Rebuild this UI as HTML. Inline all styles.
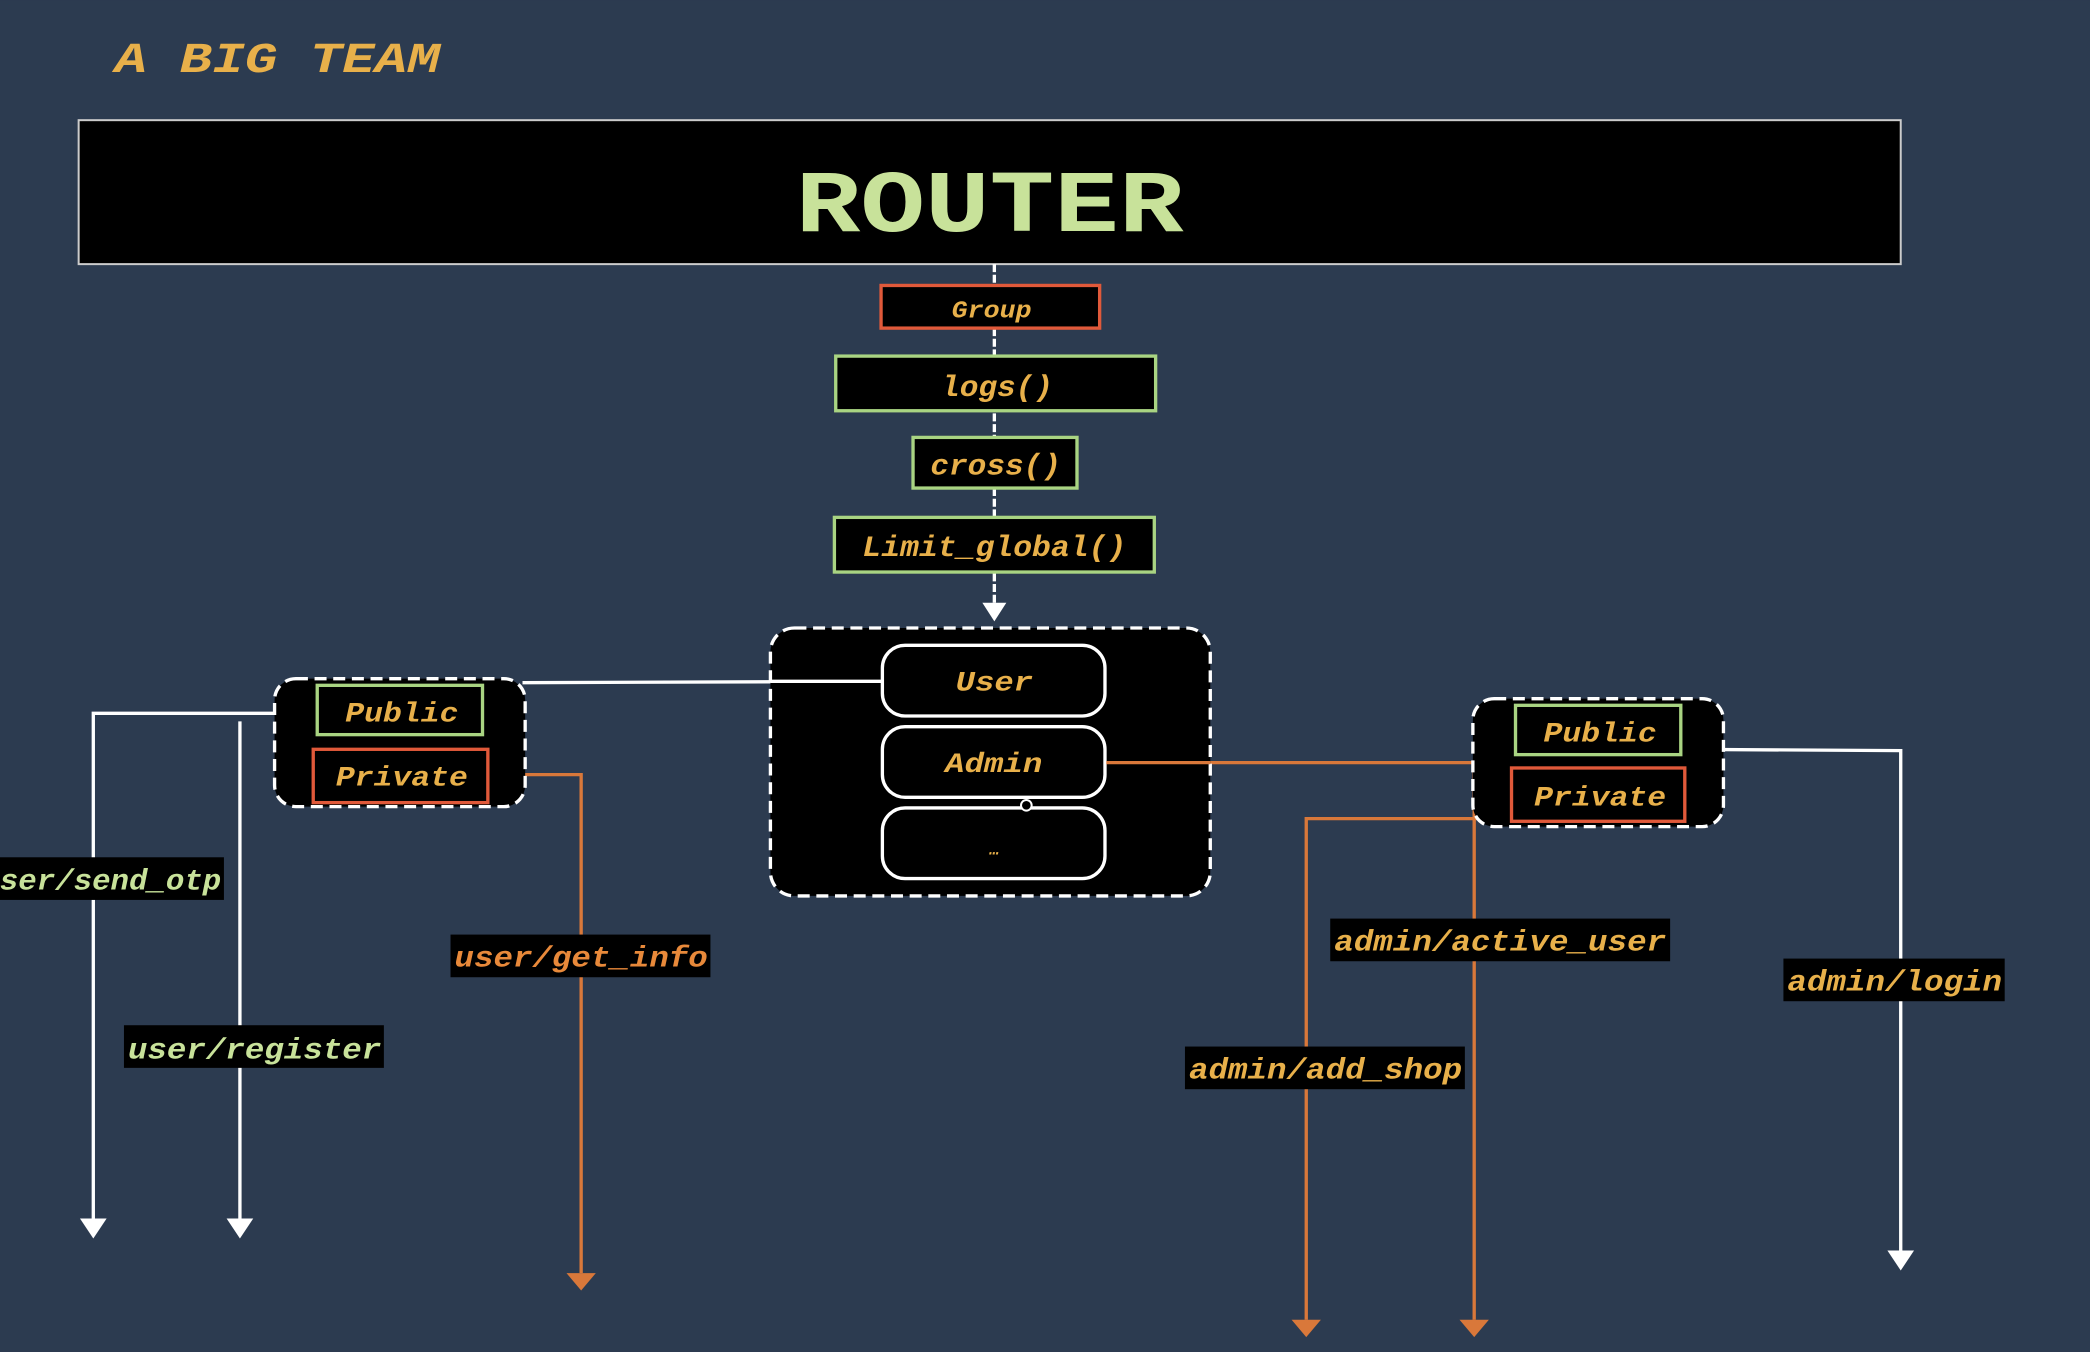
<!DOCTYPE html>
<html><head><meta charset="utf-8"><style>
html,body{margin:0;padding:0;background:#2c3b50;}
svg{display:block}
text{font-family:"Liberation Mono",monospace;font-weight:bold;}
</style></head><body>
<svg width="2090" height="1352" viewBox="0 0 1568 1014" xmlns="http://www.w3.org/2000/svg">
<rect width="1568" height="1014" fill="#2c3b50"/>
<text x="86" y="54" font-size="32" font-style="italic" fill="#e8b04a" textLength="244" lengthAdjust="spacingAndGlyphs">A BIG TEAM</text>
<rect x="59" y="90" width="1367" height="108" fill="#000" stroke="#ccc" stroke-width="1.5"/>
<text x="597" y="173" font-size="66" fill="#c8e29a" textLength="291" lengthAdjust="spacingAndGlyphs">ROUTER</text>
<line x1="746" y1="198" x2="746" y2="452" stroke="#fff" stroke-width="2.5" stroke-dasharray="6 2"/>
<path d="M737,452 L755,452 L746,466 z" fill="#fff"/>
<g font-style="italic" fill="#e8b04a">
<rect x="661" y="214" width="164" height="32" fill="#000" stroke="#e0593a" stroke-width="2.5"/>
<text x="714" y="238" font-size="18" textLength="60" lengthAdjust="spacingAndGlyphs">Group</text>
<rect x="627" y="267" width="240" height="41" fill="#000" stroke="#a9d482" stroke-width="2.5"/>
<text x="706" y="297" font-size="22" textLength="84" lengthAdjust="spacingAndGlyphs">logs()</text>
<rect x="685" y="328" width="123" height="38" fill="#000" stroke="#a9d482" stroke-width="2.5"/>
<text x="698" y="356" font-size="22" textLength="98" lengthAdjust="spacingAndGlyphs">cross()</text>
<rect x="626" y="388" width="240" height="41" fill="#000" stroke="#a9d482" stroke-width="2.5"/>
<text x="647" y="417" font-size="22" textLength="198" lengthAdjust="spacingAndGlyphs">Limit_global()</text>
</g>
<g stroke="#fff" stroke-width="2.5" fill="none">
<path d="M392,512 L662,511"/>
<path d="M237,535 L70,535 L70,914"/>
<path d="M180,541 L180,914"/>
<path d="M1262,562 L1426,563 L1426,938"/>
</g>
<g fill="#fff">
<path d="M60,914 L80,914 L70,929 z"/>
<path d="M170,914 L190,914 L180,929 z"/>
<path d="M1416,938 L1436,938 L1426,953 z"/>
</g>
<g stroke="#d9783a" stroke-width="2.5" fill="none">
<path d="M366,581 L436,581 L436,955"/>
<path d="M830,572 L1106,572"/>
<path d="M1135,614 L980,614 L980,990"/>
<path d="M1106,572 L1106,990"/>
</g>
<path d="M425,955 L447,955 L436,968 z" fill="#d9783a"/>
<path d="M969,990 L991,990 L980,1003 z" fill="#d9783a"/>
<path d="M1095,990 L1117,990 L1106,1003 z" fill="#d9783a"/>
<rect x="578" y="471" width="330" height="201" rx="18" fill="#000" stroke="#fff" stroke-width="2.5" stroke-dasharray="9 5"/>
<g fill="#000" stroke="#fff" stroke-width="2.5">
<rect x="662" y="484" width="167" height="53" rx="17"/>
<rect x="662" y="545" width="167" height="53" rx="17"/>
<rect x="662" y="606" width="167" height="53" rx="17"/>
</g>
<path d="M830,572 L908,572" stroke="#d9783a" stroke-width="2.5"/>
<path d="M578,511 L662,511" stroke="#fff" stroke-width="2.5"/>
<circle cx="770" cy="604" r="4" fill="#000" stroke="#fff" stroke-width="1.5"/>
<g font-style="italic" fill="#e8b04a" font-size="21">
<text x="717" y="518" textLength="58" lengthAdjust="spacingAndGlyphs">User</text>
<text x="709" y="579" textLength="73" lengthAdjust="spacingAndGlyphs">Admin</text>
<text x="746" y="641" font-size="12" text-anchor="middle">…</text>
</g>
<rect x="206" y="509" width="188" height="96" rx="16" fill="#000" stroke="#fff" stroke-width="2.5" stroke-dasharray="9 5"/>
<rect x="238" y="514" width="124" height="37" fill="#000" stroke="#a9d482" stroke-width="2.5"/>
<rect x="235" y="562" width="131" height="40" fill="#000" stroke="#e0593a" stroke-width="2.5"/>
<rect x="1105" y="524" width="188" height="96" rx="16" fill="#000" stroke="#fff" stroke-width="2.5" stroke-dasharray="9 5"/>
<rect x="1137" y="529" width="124" height="37" fill="#000" stroke="#a9d482" stroke-width="2.5"/>
<rect x="1134" y="576" width="130" height="40" fill="#000" stroke="#e0593a" stroke-width="2.5"/>
<g font-style="italic" fill="#e8b04a" font-size="21">
<text x="259" y="541" textLength="85" lengthAdjust="spacingAndGlyphs">Public</text>
<text x="252" y="589" textLength="99" lengthAdjust="spacingAndGlyphs">Private</text>
<text x="1158" y="556" textLength="85" lengthAdjust="spacingAndGlyphs">Public</text>
<text x="1151" y="604" textLength="99" lengthAdjust="spacingAndGlyphs">Private</text>
</g>
<g font-style="italic" font-size="22">
<rect x="0" y="643" width="168" height="32" fill="#000"/>
<text x="-14" y="667" fill="#c8e29a" textLength="180" lengthAdjust="spacingAndGlyphs">user/send_otp</text>
<rect x="93" y="769" width="195" height="32" fill="#000"/>
<text x="96" y="794" fill="#c8e29a" textLength="190" lengthAdjust="spacingAndGlyphs">user/register</text>
<rect x="338" y="701" width="195" height="32" fill="#000"/>
<text x="341" y="725" fill="#e8893a" textLength="190" lengthAdjust="spacingAndGlyphs">user/get_info</text>
<rect x="998" y="689" width="255" height="32" fill="#000"/>
<text x="1001" y="713" fill="#e8b04a" textLength="249" lengthAdjust="spacingAndGlyphs">admin/active_user</text>
<rect x="889" y="785" width="210" height="32" fill="#000"/>
<text x="892" y="809" fill="#e8b04a" textLength="205" lengthAdjust="spacingAndGlyphs">admin/add_shop</text>
<rect x="1338" y="719" width="166" height="32" fill="#000"/>
<text x="1341" y="743" fill="#e8b04a" textLength="161" lengthAdjust="spacingAndGlyphs">admin/login</text>
</g>
</svg>
</body></html>
